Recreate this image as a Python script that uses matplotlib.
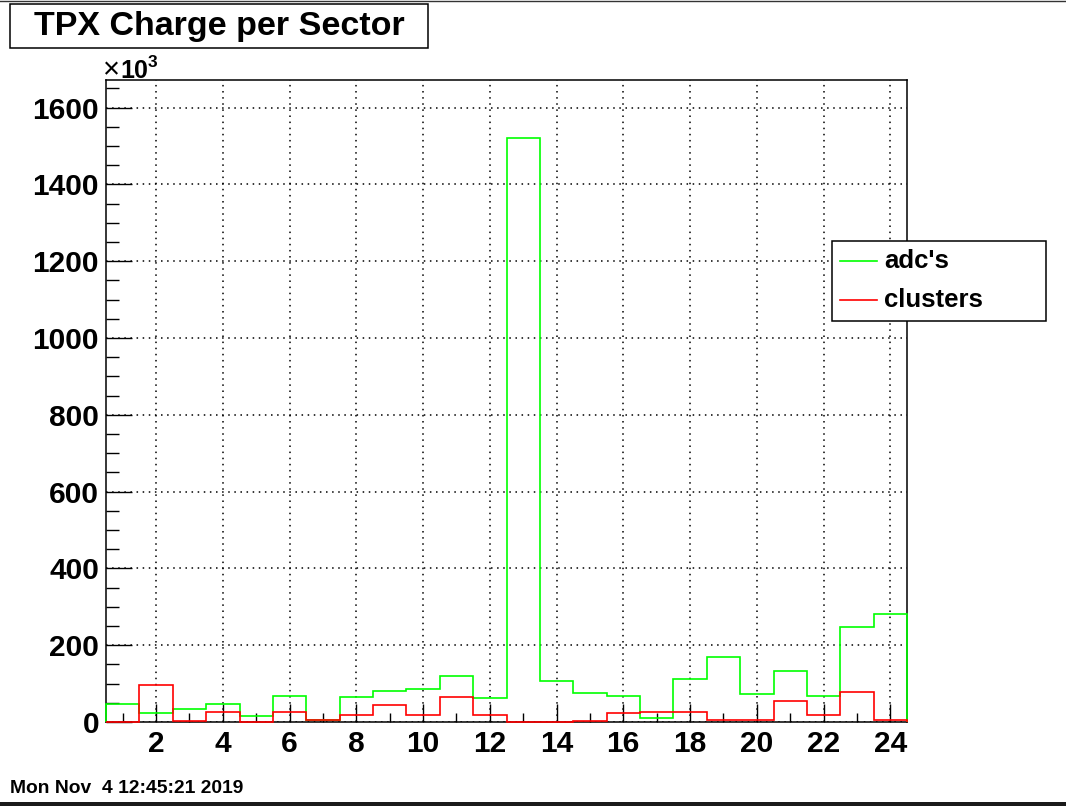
import numpy as np
import matplotlib
matplotlib.use("Agg")
import matplotlib.pyplot as plt
from matplotlib.patches import Rectangle
from matplotlib.lines import Line2D
from matplotlib.ticker import MultipleLocator

plt.rcParams['font.family'] = ['Liberation Sans', 'DejaVu Sans']

# charge per TPX sector, in units of 10^3
sectors = np.arange(1, 25)
adc = [47, 23, 34, 46, 16, 69, 5, 65, 80, 87, 121, 62,
       1520, 108, 75, 69, 10, 111, 170, 74, 134, 68, 247, 282]
clusters = [0, 97, 3, 26, 0, 26, 4, 18, 45, 17, 65, 18,
            1, 0, 3, 24, 26, 26, 5, 4, 54, 17, 77, 5]
series_names = ["adc's", "clusters"]
series_colors = ['#00ff00', '#ff0000']

W, H = 1066, 806
fig = plt.figure(figsize=(W / 100, H / 100), dpi=100)

def fx(px):
    return px / W

def fy(py):
    return 1 - py / H

ax = fig.add_axes([fx(106), fy(722), fx(907) - fx(106), fy(80) - fy(722)])

edges = np.append(sectors - 0.5, sectors[-1] + 0.5)
ax.stairs(adc, edges, color=series_colors[0], lw=1.2, zorder=3, clip_on=False)
ax.stairs(clusters, edges, color=series_colors[1], lw=1.2, zorder=4, clip_on=False)

ax.set_xlim(edges[0], edges[-1])
ax.set_ylim(0, max(adc) * 1.1)

ax.xaxis.set_major_locator(MultipleLocator(2))
ax.xaxis.set_minor_locator(MultipleLocator(1))
ax.yaxis.set_major_locator(MultipleLocator(200))
ax.yaxis.set_minor_locator(MultipleLocator(50))

ax.grid(True, which='major', color='black', linestyle=(0, (1, 3)), lw=1.1)
ax.tick_params(axis='both', which='both', direction='in', top=False, right=False,
               labelsize=21.5, width=1)
ax.tick_params(axis='x', which='major', length=13, pad=6)
ax.tick_params(axis='x', which='minor', length=6.5)
ax.tick_params(axis='y', which='major', length=19, pad=5)
ax.tick_params(axis='y', which='minor', length=9)
for lab in ax.get_xticklabels() + ax.get_yticklabels():
    lab.set_fontweight('bold')
for s in ax.spines.values():
    s.set_linewidth(1.1)

# x10^3 multiplier
fig.text(fx(103), fy(78), "\u00d7", fontsize=21, va='baseline', ha='left')
fig.text(fx(120), fy(78), "10", fontsize=18, fontweight='bold', va='baseline', ha='left')
fig.text(fx(148), fy(67), "3", fontsize=12.5, fontweight='bold', va='baseline', ha='left')

# title box
fig.patches.append(Rectangle((fx(10), fy(48)), fx(428) - fx(10), fy(4) - fy(48),
                             transform=fig.transFigure, fill=False, ec='black', lw=1.1))
fig.text(fx(219), fy(27), "TPX Charge per Sector", fontsize=24.5, fontweight='bold',
         ha='center', va='center')

# legend box
fig.patches.append(Rectangle((fx(832), fy(321)), fx(1046) - fx(832), fy(241) - fy(321),
                             transform=fig.transFigure, fill=True, fc='white', ec='black',
                             lw=1.1, zorder=5))
for name, col, yy in zip(series_names, series_colors, [261, 300]):
    fig.lines.append(Line2D([fx(840), fx(877)], [fy(yy), fy(yy)], color=col, lw=1.2,
                            transform=fig.transFigure, zorder=6))
    fig.text(fx(884), fy(yy), name, fontsize=18.5, fontweight='bold', ha='left',
             va='center', zorder=6)

# date stamp and canvas borders
fig.text(fx(10), fy(793), "Mon Nov  4 12:45:21 2019", fontsize=13.9, fontweight='bold',
         ha='left', va='baseline')
fig.patches.append(Rectangle((0, 0), 1, fy(802), transform=fig.transFigure,
                             fc='#1a1a1a', ec='none'))
fig.lines.append(Line2D([0, 1], [fy(0.5), fy(0.5)], color='#333333', lw=1,
                        transform=fig.transFigure))

fig.savefig("out.png", dpi=100)
